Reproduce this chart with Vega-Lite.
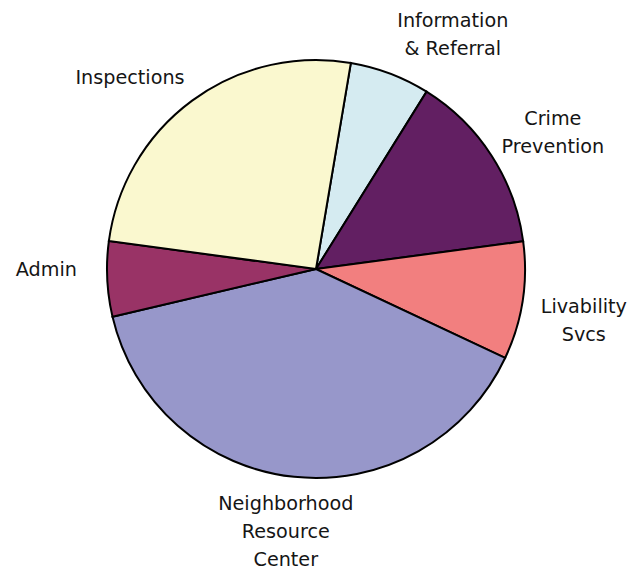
{
  "$schema": "https://vega.github.io/schema/vega-lite/v6.json",
  "width": 632,
  "height": 538,
  "padding": {"left": 0, "top": 0, "right": 11, "bottom": 34},
  "autosize": {"type": "none"},
  "background": "white",
  "config": {"view": {"stroke": null}, "text": {"font": "DejaVu Sans", "fontSize": 19.2, "lineBreak": "\n", "lineHeight": 28, "align": "center", "baseline": "middle", "color": "#151515", "radius": 270}},
  "data": {
    "values": [
      {"category": "Information\n& Referral", "value": 6.2, "ord": 1},
      {"category": "Crime\nPrevention", "value": 14.0, "ord": 2},
      {"category": "Livability\nSvcs", "value": 9.1, "ord": 3},
      {"category": "Neighborhood\nResource\nCenter", "value": 39.3, "ord": 4},
      {"category": "Admin", "value": 5.8, "ord": 5},
      {"category": "Inspections", "value": 25.5, "ord": 6}
    ]
  },
  "encoding": {
    "theta": {"field": "value", "type": "quantitative", "stack": true, "scale": {"range": [0.1676, 6.4508]}},
    "order": {"field": "ord", "type": "quantitative"}
  },
  "layer": [
    {
      "mark": {"type": "arc", "outerRadius": 209, "stroke": "black", "strokeWidth": 2},
      "encoding": {
        "color": {
          "field": "category",
          "type": "nominal",
          "legend": null,
          "scale": {
            "domain": ["Information\n& Referral", "Crime\nPrevention", "Livability\nSvcs", "Neighborhood\nResource\nCenter", "Admin", "Inspections"],
            "range": ["#D5EBF1", "#621F62", "#F27F7F", "#9797CA", "#993366", "#FAF8CF"]
          }
        }
      }
    },
    {
      "mark": {"type": "text", "dx": 41, "dy": 4},
      "encoding": {"text": {"condition": {"test": "datum.ord == 1", "field": "category"}, "value": ""}}
    },
    {
      "mark": {"type": "text", "dx": 10, "dy": -4},
      "encoding": {"text": {"condition": {"test": "datum.ord == 2", "field": "category"}, "value": ""}}
    },
    {
      "mark": {"type": "text", "dx": 1, "dy": -3},
      "encoding": {"text": {"condition": {"test": "datum.ord == 3", "field": "category"}, "value": ""}}
    },
    {
      "mark": {"type": "text", "dx": -2, "dy": -34},
      "encoding": {"text": {"condition": {"test": "datum.ord == 4", "field": "category"}, "value": ""}}
    },
    {
      "mark": {"type": "text", "dx": 0, "dy": -12},
      "encoding": {"text": {"condition": {"test": "datum.ord == 5", "field": "category"}, "value": ""}}
    },
    {
      "mark": {"type": "text", "dx": -26, "dy": 26},
      "encoding": {"text": {"condition": {"test": "datum.ord == 6", "field": "category"}, "value": ""}}
    }
  ]
}
